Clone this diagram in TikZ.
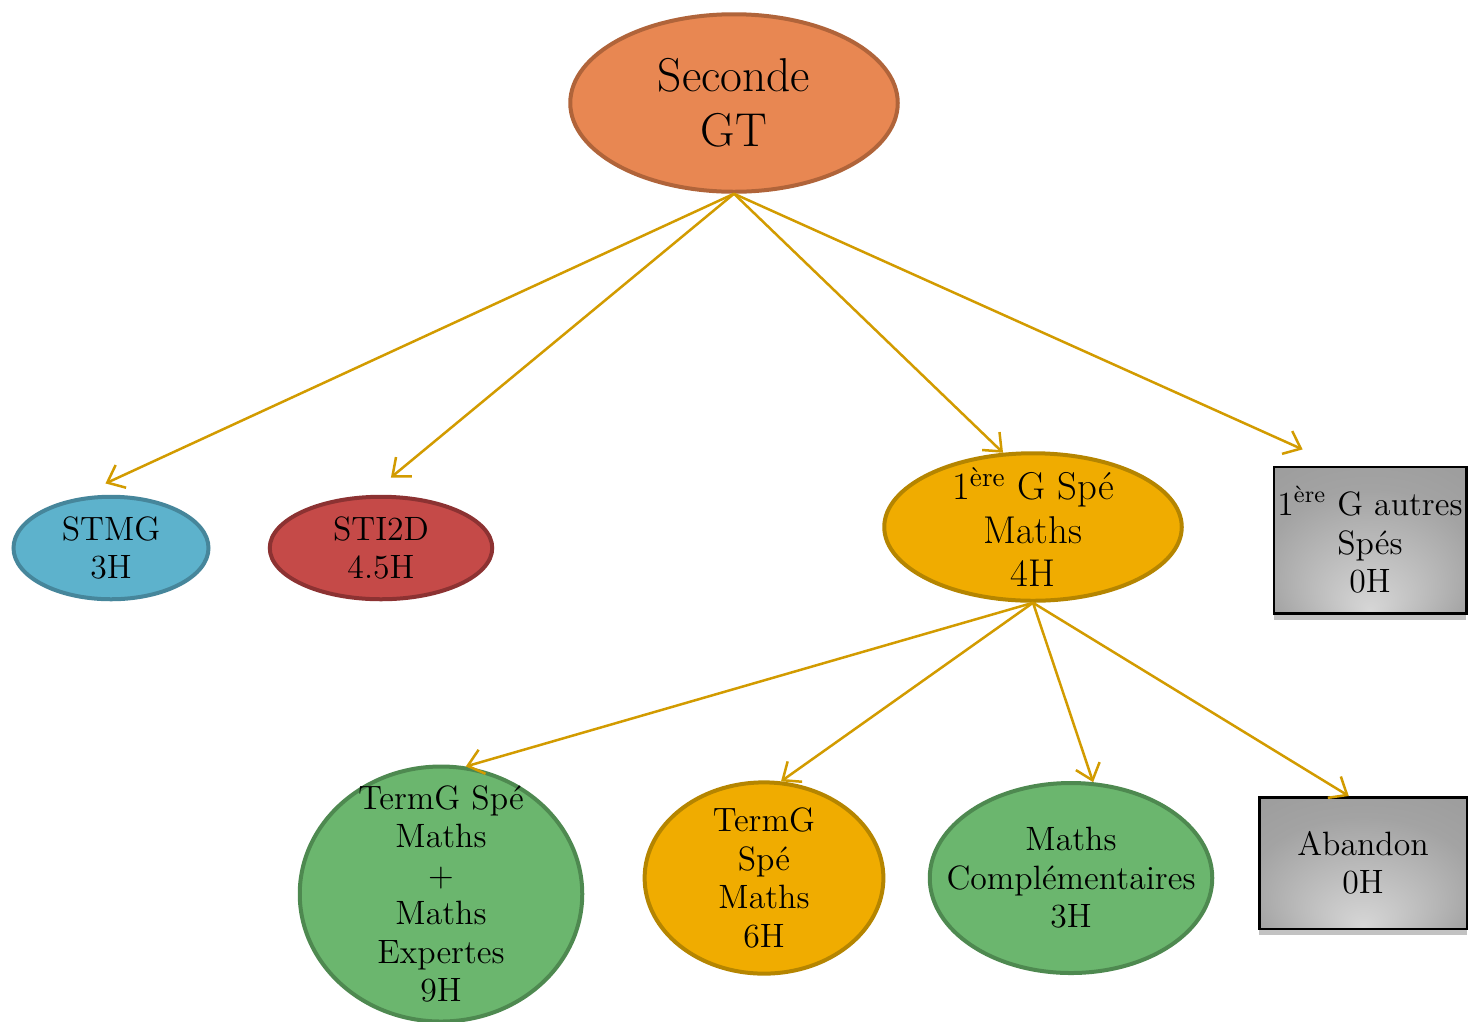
\documentclass[tikz,border=0pt]{standalone}
\usepackage{xcolor}
\usetikzlibrary{shapes.geometric,arrows.meta,shadows}
\definecolor{orangeF}{HTML}{E88752}
\definecolor{orangeD}{HTML}{B0643A}
\definecolor{bleuF}{HTML}{5DB2CC}
\definecolor{bleuD}{HTML}{46869B}
\definecolor{rougeF}{HTML}{C54A48}
\definecolor{rougeD}{HTML}{8C3232}
\definecolor{jauneF}{HTML}{F0AC00}
\definecolor{jauneD}{HTML}{B58500}
\definecolor{vertF}{HTML}{6BB66E}
\definecolor{vertD}{HTML}{4E8950}
\definecolor{flecheC}{HTML}{D29B00}
\pgfdeclareradialshading{grisfond}{\pgfpoint{0bp}{-24bp}}{color(0bp)=(gray!32); color(28bp)=(gray!72); color(50bp)=(gray!82)}
\tikzset{
  bulle/.style 2 args = {ellipse, fill=#1, draw=#2, line width=1.6pt,
                inner xsep=-20pt, inner ysep=-20pt, align=center,
                font=\fontsize{13.5}{15.4}\selectfont},
  boite/.style = {rectangle, draw=black, line width=1pt, shading=grisfond,
                drop shadow={shadow xshift=0pt, shadow yshift=-2.5pt, fill=gray!95},
                inner sep=0pt, align=center, font=\fontsize{13.5}{15.4}\selectfont},
  fleche/.style = {draw=flecheC, line width=1pt,
                -{Straight Barb[length=6pt,width=10pt]}}
}
\begin{document}
\begin{tikzpicture}[x=0.4pt,y=-0.4pt]
	\useasboundingbox (0,0) rectangle (1471,1021);

	% Seconde
	\node[bulle={orangeF}{orangeD}, minimum width=131pt, minimum height=71pt,
	      font=\fontsize{19}{22}\selectfont] (seconde) at (734,103) {Seconde\\GT};

	% Premiere
	\node[bulle={bleuF}{bleuD}, minimum width=78pt, minimum height=41pt] (stmg) at (111,548) {STMG\\3H};
	\node[bulle={rougeF}{rougeD}, minimum width=89pt, minimum height=41pt] (stid) at (381,548) {STI2D\\4.5H};
	\node[bulle={jauneF}{jauneD}, minimum width=119pt, minimum height=59pt,
	      font=\fontsize{15.5}{17.4}\selectfont] (spe) at (1033,527) {1\textsuperscript{ère} G Spé\\Maths\\4H};
	\node[boite, minimum width=77pt, minimum height=58.6pt] (autres) at (1370,540) {1\textsuperscript{ère} G autres\\Spés\\0H};

	% Terminale
	\node[bulle={vertF}{vertD}, minimum width=113pt, minimum height=102pt] (tspeme) at (441,894) {TermG Spé\\Maths\\+\\Maths\\Expertes\\9H};
	\node[bulle={jauneF}{jauneD}, minimum width=95.5pt, minimum height=76.5pt] (tspe) at (764,878) {TermG\\Spé\\Maths\\6H};
	\node[bulle={vertF}{vertD}, minimum width=113pt, minimum height=76pt] (mcomp) at (1071,878) {Maths\\Complémentaires\\3H};
	\node[boite, minimum width=83pt, minimum height=52.6pt] (abandon) at (1363,863) {Abandon\\0H};

	% Arrows
	\draw[fleche, shorten >=15pt] (seconde.south) -- (stmg.129);
	\draw[fleche, shorten >=11pt] (seconde.south) -- (stid.102);
	\draw[fleche] (seconde.south) -- (spe.112);
	\draw[fleche, shorten >=15.7pt] (seconde.south) -- (autres.113);

	\draw[fleche] (spe.south) -- (tspeme.79);
	\draw[fleche] (spe.south) -- (tspe.80);
	\draw[fleche] (spe.south) -- (mcomp.77);
	\draw[fleche] (spe.south) -- (abandon.102);
\end{tikzpicture}
\end{document}
